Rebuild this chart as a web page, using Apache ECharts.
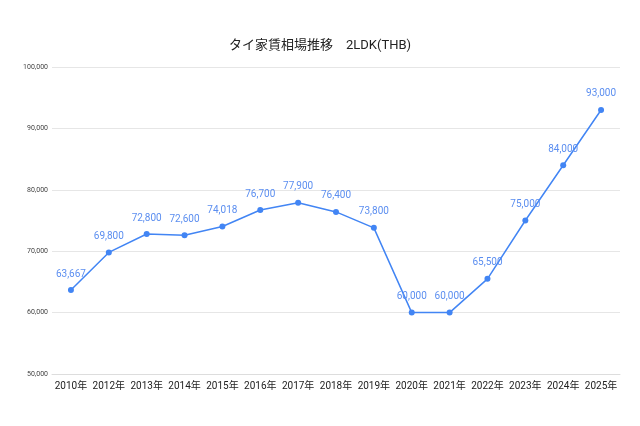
<!DOCTYPE html>
<html><head><meta charset="utf-8">
<script src="https://cdn.jsdelivr.net/npm/echarts@6/dist/echarts.min.js"></script>
<style>html,body{margin:0;padding:0;background:#fff}#c{width:640px;height:426px}</style>
</head><body><div id="c"></div>
<script>
const categories = ['2010年','2012年','2013年','2014年','2015年','2016年','2017年','2018年','2019年','2020年','2021年','2022年','2023年','2024年','2025年'];
const rent = [63667, 69800, 72800, 72600, 74018, 76700, 77900, 76400, 73800, 60000, 60000, 65500, 75000, 84000, 93000];
const titleText = 'タイ家賃相場推移　2LDK(THB)';
const yMin = 50000, yMax = 100000, yStep = 10000;

const chart = echarts.init(document.getElementById('c'), null, {renderer:'canvas'});
chart.setOption({
  animation: false,
  backgroundColor: '#fff',
  title: {
    text: titleText, left: 'center', top: 34,
    textStyle: {fontFamily: 'Roboto, "Noto Sans CJK JP", sans-serif', fontSize: 13, fontWeight: 'normal', color: '#222'}
  },
  grid: {left: 52, right: 20, top: 67, bottom: 52},
  xAxis: {
    type: 'category', data: categories, boundaryGap: true,
    axisLine: {show: true, lineStyle: {color: '#ddd'}},
    axisTick: {show: false},
    axisLabel: {color: '#222', fontSize: 10, margin: 7, interval: 0, fontFamily: 'Roboto, "Noto Sans CJK JP", sans-serif'}
  },
  yAxis: {
    type: 'value', min: yMin, max: yMax, interval: yStep,
    axisLine: {show: false}, axisTick: {show: false},
    splitLine: {lineStyle: {color: '#e6e6e6'}},
    axisLabel: {color: '#444', fontSize: 7, margin: 4, fontFamily: 'Roboto, sans-serif',
      formatter: v => v.toLocaleString('en-US')}
  },
  series: [{
    type: 'line', data: rent,
    symbol: 'circle', symbolSize: 6,
    lineStyle: {color: '#4285F4', width: 1.5},
    itemStyle: {color: '#4285F4'},
    label: {show: true, position: 'top', distance: 8, color: '#5b8ef0', fontSize: 10,
      fontFamily: 'Roboto, sans-serif',
      formatter: p => p.value.toLocaleString('en-US')}
  }]
});
</script></body></html>
